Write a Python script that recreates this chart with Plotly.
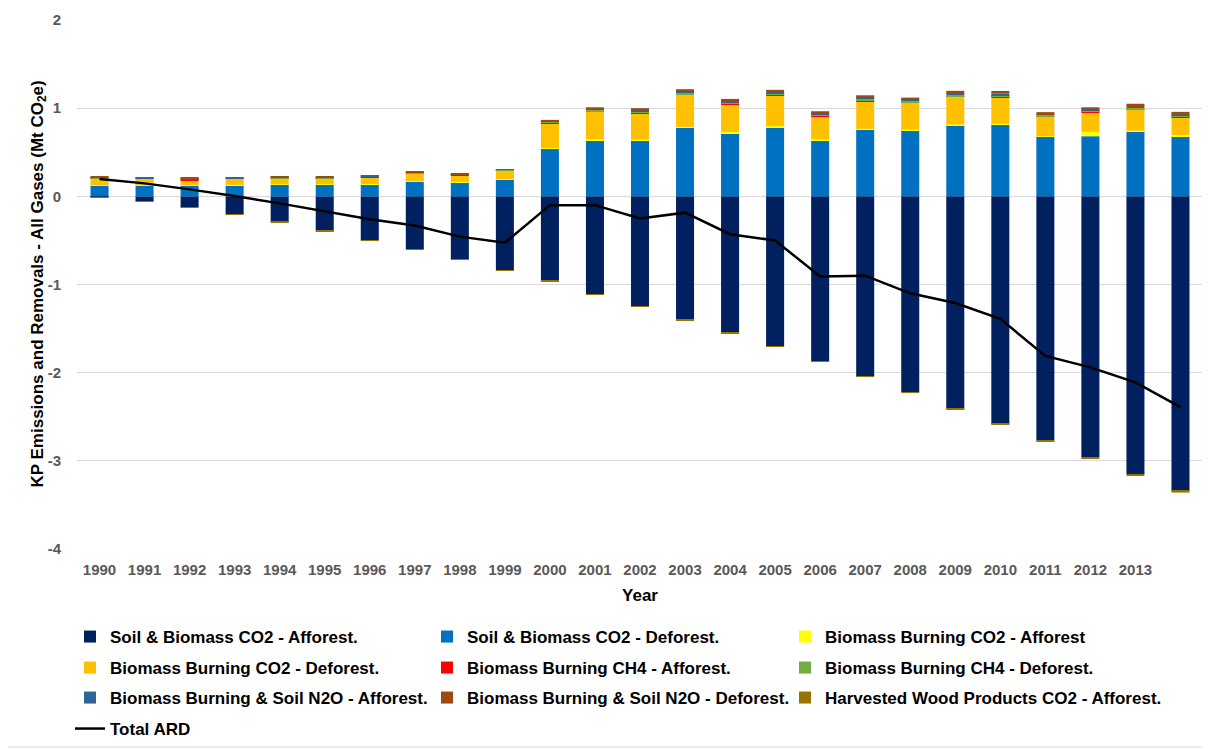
import plotly.graph_objects as go

years = list(range(1990, 2015))
tick_years = list(range(1990, 2014))
y_ticks = [2, 1, 0, -1, -2, -3, -4]

soil_aff = [-0.015, -0.06, -0.125, -0.204, -0.291, -0.393, -0.499, -0.60, -0.718, -0.839,
            -0.96, -1.11, -1.25, -1.40, -1.55, -1.70, -1.87, -2.04, -2.22, -2.41,
            -2.58, -2.77, -2.96, -3.15, -3.34]
soil_def = [0.121, 0.121, 0.121, 0.125, 0.132, 0.132, 0.136, 0.166, 0.159, 0.189,
            0.538, 0.636, 0.636, 0.78, 0.712, 0.784, 0.636, 0.754, 0.746, 0.807,
            0.814, 0.674, 0.682, 0.735, 0.678]
bb_co2_aff = [0.005, 0.005, 0.005, 0.005, 0.005, 0.005, 0.005, 0.006, 0.005, 0.006,
              0.01, 0.012, 0.008, 0.008, 0.018, 0.012, 0.012, 0.012, 0.012, 0.008,
              0.008, 0.008, 0.05, 0.01, 0.018]
bb_co2_def = [0.074, 0.071, 0.059, 0.067, 0.067, 0.067, 0.078, 0.088, 0.07, 0.095,
              0.282, 0.312, 0.299, 0.367, 0.315, 0.352, 0.257, 0.31, 0.302, 0.318,
              0.303, 0.223, 0.223, 0.24, 0.202]
bb_ch4_aff = [0.002, 0.002, 0.005, 0.002, 0.002, 0.002, 0.002, 0.002, 0.012, 0.002,
              0.003, 0.004, 0.004, 0.004, 0.004, 0.004, 0.012, 0.01, 0.004, 0.004,
              0.004, 0.004, 0.01, 0.004, 0.004]
bb_ch4_def = [0.008, 0.008, 0.004, 0.008, 0.01, 0.008, 0.008, 0.008, 0.004, 0.007,
              0.012, 0.016, 0.016, 0.02, 0.016, 0.018, 0.012, 0.02, 0.018, 0.016,
              0.018, 0.014, 0.014, 0.014, 0.016]
n2o_aff = [0.005, 0.005, 0.004, 0.005, 0.005, 0.005, 0.005, 0.005, 0.003, 0.004,
           0.008, 0.01, 0.012, 0.012, 0.012, 0.012, 0.01, 0.012, 0.012, 0.016,
           0.018, 0.01, 0.01, 0.01, 0.01]
n2o_def = [0.008, 0.007, 0.012, 0.007, 0.009, 0.008, 0.008, 0.008, 0.007, 0.007,
           0.014, 0.02, 0.025, 0.024, 0.028, 0.026, 0.026, 0.028, 0.026, 0.028,
           0.03, 0.022, 0.021, 0.037, 0.03]
hwp_aff = [-0.002, -0.002, -0.002, -0.002, -0.002, -0.002, -0.002, -0.002, -0.002, -0.002,
           -0.005, -0.005, -0.005, -0.005, -0.005, -0.005, -0.005, -0.006, -0.008, -0.01,
           -0.012, -0.012, -0.015, -0.018, -0.02]
total_ard = [0.196, 0.147, 0.079, 0.004, -0.08, -0.174, -0.26, -0.33, -0.457, -0.525,
             -0.10, -0.10, -0.25, -0.185, -0.43, -0.50, -0.91, -0.90, -1.10, -1.21,
             -1.39, -1.81, -1.94, -2.11, -2.39]

series = [
    ("Soil & Biomass CO2 - Afforest.", soil_aff, "#002060"),
    ("Soil & Biomass CO2 - Deforest.", soil_def, "#0070C0"),
    ("Biomass Burning CO2 - Afforest", bb_co2_aff, "#FFFF00"),
    ("Biomass Burning CO2 - Deforest.", bb_co2_def, "#FFC000"),
    ("Biomass Burning CH4 - Afforest.", bb_ch4_aff, "#FF0000"),
    ("Biomass Burning CH4 - Deforest.", bb_ch4_def, "#70AD47"),
    ("Biomass Burning & Soil N2O - Afforest.", n2o_aff, "#2E6599"),
    ("Biomass Burning & Soil N2O - Deforest.", n2o_def, "#9E480E"),
    ("Harvested Wood Products CO2 - Afforest.", hwp_aff, "#997300"),
]

# page body has an 8px margin; layout numbers below are in figure pixels
PAGE_OFF = 8
col_x = [62, 419, 777]
row_y = [637, 668, 698, 729]

legend_ids = [f"legend{i}" for i in range(2, 12)]

fig = go.Figure()
for i, (name, vals, color) in enumerate(series):
    fig.add_trace(go.Bar(x=years, y=vals, name=name, marker_color=color,
                         marker_line_width=0, width=0.4, legend=legend_ids[i]))
fig.add_trace(go.Scatter(x=years, y=total_ard, name="Total ARD", mode="lines",
                         line=dict(color="black", width=2.5), legend=legend_ids[9]))

font_family = "Liberation Sans, Arial, sans-serif"
leg_font = dict(family=font_family, size=17, color="black", weight="bold")

W, H = 1210, 749
legend_layouts = {}
for i, lid in enumerate(legend_ids):
    r, c = divmod(i, 3)
    legend_layouts[lid] = dict(orientation="h", xref="container", yref="container",
                               x=col_x[c] / W, xanchor="left",
                               y=1 - (row_y[r] - PAGE_OFF) / H, yanchor="middle",
                               font=leg_font, bgcolor="rgba(0,0,0,0)")

fig.update_layout(
    width=W, height=H,
    margin=dict(l=77 - PAGE_OFF, r=W - (1203 - PAGE_OFF), t=20 - PAGE_OFF, b=H - (549 - PAGE_OFF)),
    paper_bgcolor="white", plot_bgcolor="white",
    barmode="relative", showlegend=True,
    font=dict(family=font_family),
    xaxis=dict(range=[1989.5, 2014.5], tickvals=tick_years, ticktext=[str(y) for y in tick_years],
               tickfont=dict(size=15, color="#595959", weight="bold"), showgrid=False,
               showline=False, ticks="", ticklabelstandoff=10, automargin=False,
               title=dict(text="Year", font=dict(size=17, color="black", weight="bold"), standoff=12)),
    yaxis=dict(range=[-4, 2], tickvals=y_ticks, ticktext=[str(v) for v in y_ticks],
               tickfont=dict(size=15, color="#595959", weight="bold"), automargin=False,
               gridcolor="#D9D9D9", gridwidth=1, zeroline=True, zerolinecolor="#D9D9D9",
               zerolinewidth=1, showline=False, ticks="", ticklabelstandoff=15),
    annotations=[dict(text="KP Emissions and Removals - All Gases (Mt CO<sub>2</sub>e)",
                      xref="paper", yref="paper", x=(38 - 77) / 1126, y=0.5,
                      xanchor="center", yanchor="middle", textangle=-90, showarrow=False,
                      font=dict(family=font_family, size=17, color="black", weight="bold"))],
    shapes=[dict(type="rect", xref="paper", yref="paper", x0=-76 / 1126, x1=1131 / 1126,
                 y0=-198 / 529, y1=548 / 529, line=dict(color="#D9D9D9", width=1), layer="below")],
    **legend_layouts,
)

fig.write_html("out.html")
